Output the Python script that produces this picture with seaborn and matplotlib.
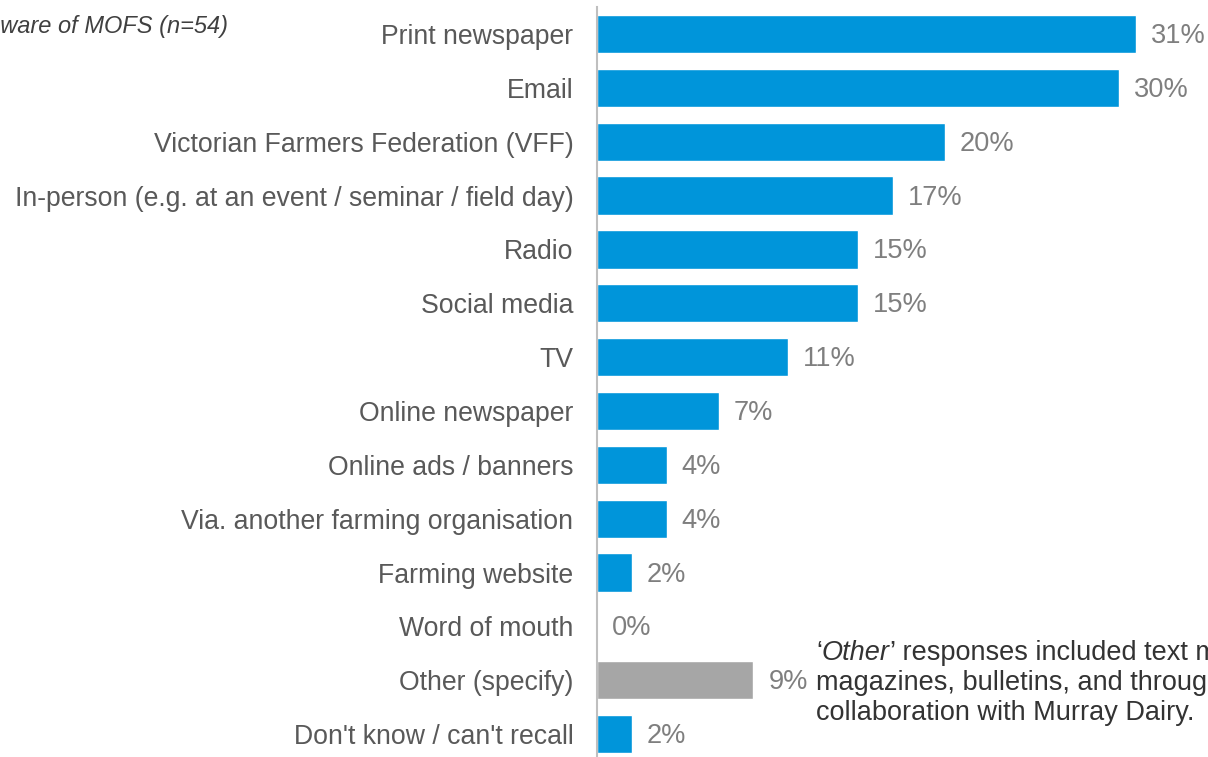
import matplotlib
matplotlib.use("Agg")
import matplotlib.pyplot as plt
import seaborn as sns
import pandas as pd

categories = [
    "Print newspaper",
    "Email",
    "Victorian Farmers Federation (VFF)",
    "In-person (e.g. at an event / seminar / field day)",
    "Radio",
    "Social media",
    "TV",
    "Online newspaper",
    "Online ads / banners",
    "Via. another farming organisation",
    "Farming website",
    "Word of mouth",
    "Other (specify)",
    "Don't know / can't recall",
]
values = [31, 30, 20, 17, 15, 15, 11, 7, 4, 4, 2, 0, 9, 2]
groups = ["main"] * 12 + ["other", "main"]
palette = {"main": "#0095DA", "other": "#A6A6A6"}

base_note = "Base: aware of MOFS (n=54)"
other_note = ["responses included text messages,",
              "magazines, bulletins, and through",
              "collaboration with Murray Dairy."]

df = pd.DataFrame({"category": categories, "value": values, "group": groups})

sns.set_theme(style="white")
plt.rcParams["font.family"] = ["Liberation Sans", "DejaVu Sans"]

W, H = 1208, 757
fig = plt.figure(figsize=(W / 100, H / 100), dpi=100)
ax_left, ax_right = 597, 1208
row = 53.85
top = 34 - row / 2
bottom = top + row * len(categories)
ax = fig.add_axes([ax_left / W, (H - bottom) / H, (ax_right - ax_left) / W, (bottom - top) / H])

sns.barplot(data=df, x="value", y="category", hue="group", palette=palette,
            dodge=False, legend=False, width=0.71, ax=ax, saturation=1)

px_per_unit = (1136 - 597) / 31
ax.set_xlim(0, (ax_right - ax_left) / px_per_unit)
ax.set_ylim(len(categories) - 0.5, -0.5)

for i, v in enumerate(values):
    ax.annotate(f"{v}%", xy=(v, i), xytext=(15, -2), textcoords="offset pixels",
                va="center", ha="left", fontsize=19.6, color="#7F7F7F")

ax.set_xlabel("")
ax.set_ylabel("")
ax.set_xticks([])
ax.tick_params(axis="y", length=0, pad=17, labelsize=19.2, labelcolor="#595959")
for s in ["top", "right", "bottom"]:
    ax.spines[s].set_visible(False)
ax.spines["left"].set_color("#BFBFBF")
ax.spines["left"].set_linewidth(1.5)

fig.text(228 / W, 1 - 27 / H, base_note, ha="right", va="center",
         fontsize=17, style="italic", color="#404040")

# note about "Other" responses, with the word Other set in italics
renderer = fig.canvas.get_renderer()
x0, y1 = 816, 653
note_kw = dict(fontsize=19.5, color="#333333", va="center", ha="left")
t = fig.text(x0 / W, 1 - y1 / H, "\u2018", **note_kw)
x = t.get_window_extent(renderer).x1
t = fig.text(x / W, 1 - y1 / H, "Other", style="italic", **note_kw)
x = t.get_window_extent(renderer).x1
fig.text(x / W, 1 - y1 / H, "\u2019 " + other_note[0], **note_kw)
fig.text(x0 / W, 1 - 683 / H, other_note[1], **note_kw)
fig.text(x0 / W, 1 - 713 / H, other_note[2], **note_kw)

fig.savefig("out.png", dpi=100)
